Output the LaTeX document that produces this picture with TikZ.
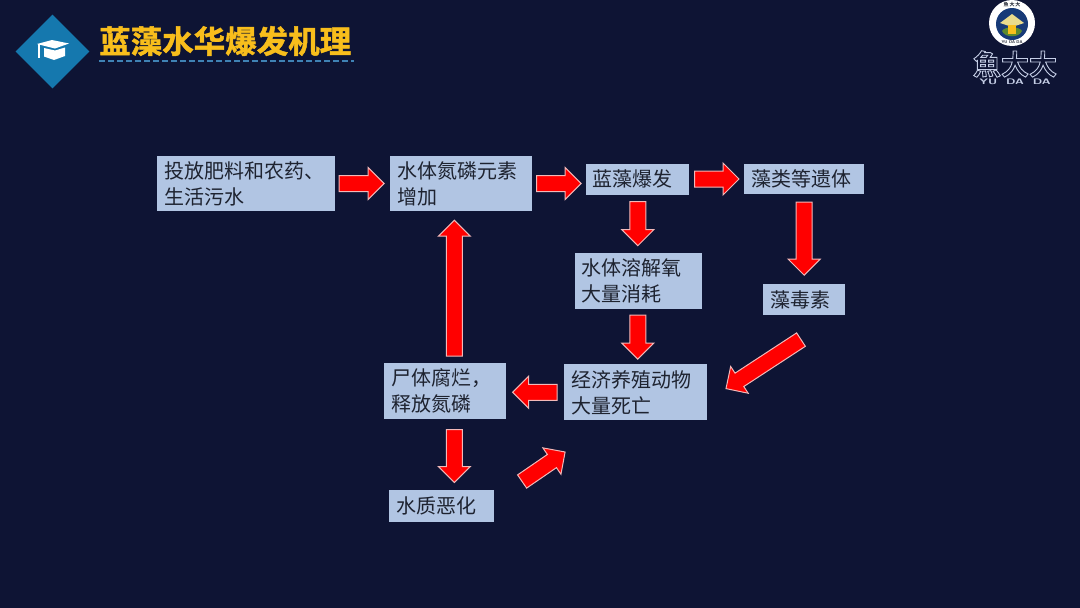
\documentclass[tikz,border=0pt]{standalone}
\usepackage{fontspec}
\usepackage{xcolor}
\usepackage{tikz}
\usetikzlibrary{positioning, calc}
\newfontfamily\cjk{Noto Sans CJK SC}
\newfontfamily\cjkbold[FakeBold=1.5]{Noto Sans CJK SC Bold}
\newfontfamily\cjktrad{Noto Sans CJK TC Bold}
\definecolor{pagenavy}{HTML}{0E1434}
\definecolor{boxblue}{HTML}{B1C5E3}
\definecolor{boxink}{HTML}{1E2330}
\definecolor{titlegold}{HTML}{F8BE1C}
\definecolor{badgeblue}{HTML}{1578AE}
\definecolor{rulekblue}{HTML}{3F82B4}
\definecolor{flowedge}{HTML}{F2B8B8}
\definecolor{logoink}{HTML}{C5CEE6}
\definecolor{sealblue}{HTML}{173A78}
\definecolor{hatcream}{HTML}{EADB8C}
\definecolor{sealgreen}{HTML}{5C8A2E}
\tikzset{
  stage/.style={fill=boxblue, text=boxink, align=left, inner sep=0pt, font=\cjk\fontsize{20}{26}\selectfont},
  flow/.style n args={2}{draw=flowedge, fill=red, line width=1pt, miter limit=10,
    to path={let \p1=($(\tikztotarget)-(\tikztostart)$), \n1={atan2(\y1,\x1)}, \n2={veclen(\x1,\y1)} in
      ($(\tikztostart)+(\n1:#1pt)+(\n1+90:8pt)$) -- ++(\n1:\n2-#1pt-#2pt-16pt) -- ++(\n1+90:8pt) --
      ($(\tikztotarget)-(\n1:#2pt)$) --
      ($(\tikztostart)+(\n1:\n2-#2pt-16pt)+(\n1-90:16pt)$) -- ++(\n1+90:8pt) -- ++(\n1+180:\n2-#1pt-#2pt-16pt) -- cycle}}
}
\begin{document}
\begin{tikzpicture}[x=1pt, y=-1pt]
    \useasboundingbox[fill=pagenavy] (0,0) rectangle (1080,608);

    % title
    \node[fill=badgeblue, minimum size=52pt, inner sep=0pt, rotate=45] (badge) at (52.5,51.5) {};
    \fill[white] (37,44) -- (52,40) -- (69,43.5) -- (55,48.5) -- cycle;
    \fill[white] (44,48) -- (55,50.5) -- (65,47.5) -- (65,56) -- (54,60) -- (44,56.5) -- cycle;
    \draw[white, line width=2pt] (38.5,44) -- (38.5,58);
    \node[text=titlegold, font=\cjkbold\fontsize{31.5}{31.5}\selectfont, anchor=west, inner sep=0pt] (title) at (99,41) {蓝藻水华爆发机理};
    \draw[rulekblue, line width=1.4pt, dash pattern=on 5.5pt off 3.5pt] (99,61) -- (354,61);

    % logo
    \node[circle, fill=white, minimum size=46pt, inner sep=0pt] (seal) at (1012,23) {};
    \node[circle, fill=sealblue, minimum size=32pt, inner sep=0pt] (sealcore) at (1012,24) {};
    \fill[sealgreen] (1002,31) .. controls (1005,26) and (1019,26) .. (1022,31) .. controls (1019,38) and (1005,38) .. (1002,31) -- cycle;
    \fill[hatcream] (1000,23) -- (1012,14) -- (1024,23) -- (1012,27) -- cycle;
    \fill[titlegold] (1008,25) rectangle (1016,34);
    \node[text=boxink, font=\cjktrad\fontsize{5}{5}\selectfont, inner sep=0pt] (sealtop) at (1012,4.5) {魚\,大\,大};
    \node[text=boxink, font=\sffamily\bfseries\fontsize{4}{4}\selectfont, inner sep=0pt] (sealfoot) at (1012,42.5) {YU DA DA};
    \node[text=logoink, font=\cjktrad\fontsize{28}{28}\selectfont, inner sep=0pt] (brand) at (1015,64) {\special{pdf:code 1 Tr 0.9 w}魚大大\special{pdf:code 0 Tr}};
    \node[text=logoink, font=\sffamily\bfseries\fontsize{8}{8}\selectfont, inner sep=0pt, xscale=1.5] (brandlatin) at (1015,81.5) {YU\ \ DA\ \ DA};

    % stages
    \node[stage, text width=164pt, minimum width=178pt, minimum height=55pt] (inputs) at (246,183.5) {投放肥料和农药、\\生活污水};
    \node[stage, text width=128pt, minimum width=142pt, minimum height=55pt, right=55pt of inputs] (nutrient) {水体氮磷元素\\增加};
    \node[stage, text width=90pt, minimum width=103pt, minimum height=31pt, right=53.5pt of nutrient, yshift=4.5pt] (bloom) {蓝藻爆发};
    \node[stage, text width=106pt, minimum width=120pt, minimum height=30pt, right=54.5pt of bloom] (remains) {藻类等遗体};
    \node[stage, text width=113pt, minimum width=127pt, minimum height=56pt, below=58pt of bloom, xshift=0.5pt] (oxygen) {水体溶解氧\\大量消耗};
    \node[stage, text width=68pt, minimum width=82pt, minimum height=31pt, below=90pt of remains] (toxin) {藻毒素};
    \node[stage, text width=129pt, minimum width=143pt, minimum height=56pt, below=55pt of oxygen, xshift=-2.5pt] (econ) {经济养殖动物\\大量死亡};
    \node[stage, text width=108pt, minimum width=122pt, minimum height=56pt, left=57.5pt of econ, yshift=1pt] (decay) {尸体腐烂，\\释放氮磷};
    \node[stage, text width=91pt, minimum width=105pt, minimum height=32pt, below=70pt of decay, xshift=-3.5pt] (quality) {水质恶化};

    % arrows
    \draw[flow={4}{6}] (inputs.east) to (nutrient.west);
    \draw[flow={4}{5}] (nutrient.east) to ([yshift=-4.5pt]bloom.west);
    \draw[flow={5}{5}] (bloom.east) to (remains.west);
    \draw[flow={7}{7}] (bloom.south) to ([xshift=-0.5pt]oxygen.north);
    \draw[flow={8}{9}] (remains.south) to (toxin.north);
    \draw[flow={6}{5}] ([xshift=-0.5pt]oxygen.south) to ([xshift=2pt]econ.north);
    \draw[flow={0}{0}] ([shift={(-3.2,24)}]toxin.south) to ([shift={(18.5,-3.7)}]econ.east);
    \draw[flow={7}{6}] (econ.west) to ([yshift=-1pt]decay.east);
    \draw[flow={7}{9}] ([xshift=9pt]decay.north) to ([xshift=-7pt]nutrient.south);
    \draw[flow={10}{7}] ([xshift=9pt]decay.south) to ([xshift=12.5pt]quality.north);
    \draw[flow={0}{0}] ([shift={(27.5,-8)}]quality.north east) to ([shift={(1,31.5)}]econ.south west);
\end{tikzpicture}
\end{document}
